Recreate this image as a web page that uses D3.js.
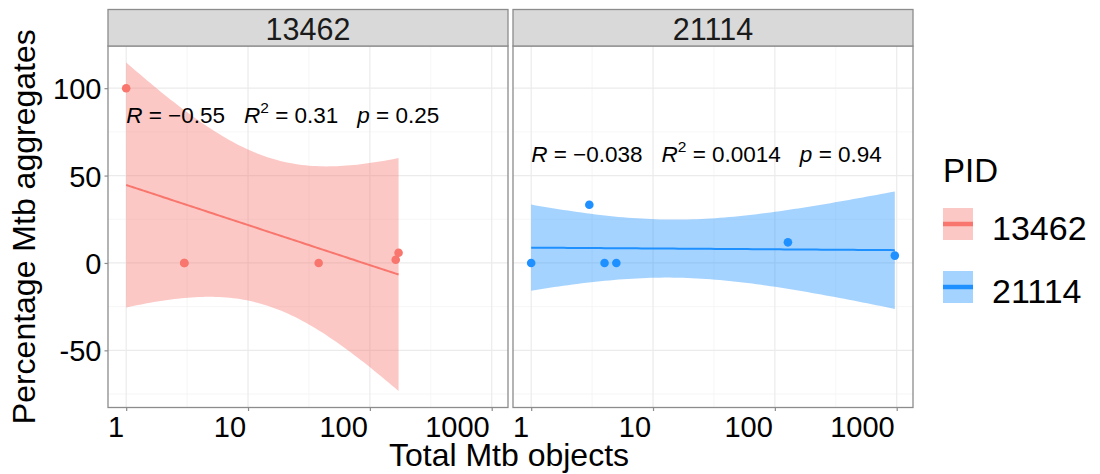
<!DOCTYPE html>
<html>
<head>
<meta charset="utf-8">
<script src="https://cdn.jsdelivr.net/npm/d3@7"></script>
<style>
  html, body { margin: 0; padding: 0; background: #fff; }
  svg text { font-family: "Liberation Sans", Arial, Helvetica, sans-serif; }
</style>
</head>
<body>
<svg id="chart" width="1100" height="474"></svg>
<script>
// ---- data ----------------------------------------------------------------
const pidLevels   = ["13462", "21114"];
const pidColors   = ["#F8766D", "#1E90FF"];
const totalMtb13462 = [1, 3, 3, 38, 163, 172];
const pctAgg13462   = [100, 0, 0, 0, 1.84, 5.81];
const totalMtb21114 = [1, 3, 4, 5, 128, 965];
const pctAgg21114   = [0, 33.3, 0, 0, 11.8, 4.2];
const xTickValues = [1, 10, 100, 1000];
const yTickValues = [-50, 0, 50, 100];
const statR  = ["\u22120.55", "\u22120.038"];
const statR2 = ["0.31", "0.0014"];
const statP  = ["0.25", "0.94"];

// two-sided 95% t quantiles by residual degrees of freedom
const T975 = { 1: 12.706, 2: 4.303, 3: 3.182, 4: 2.776, 5: 2.571, 6: 2.447, 7: 2.365, 8: 2.306 };

const groups = [
  { pid: pidLevels[0], color: pidColors[0], x: totalMtb13462, y: pctAgg13462, r: statR[0], r2: statR2[0], p: statP[0], labelY: 80 },
  { pid: pidLevels[1], color: pidColors[1], x: totalMtb21114, y: pctAgg21114, r: statR[1], r2: statR2[1], p: statP[1], labelY: 57.5 }
];

// ---- linear fit on log10(x) with 95% confidence band ------------------------
function fitLm(xs, ys) {
  const lx = xs.map(Math.log10);
  const n = lx.length;
  const mx = d3.mean(lx), my = d3.mean(ys);
  let sxx = 0, sxy = 0;
  lx.forEach((v, i) => { sxx += (v - mx) ** 2; sxy += (v - mx) * (ys[i] - my); });
  const slope = sxy / sxx, icpt = my - slope * mx;
  let sse = 0;
  lx.forEach((v, i) => { sse += (ys[i] - (icpt + slope * v)) ** 2; });
  const s = Math.sqrt(sse / (n - 2));
  const t = T975[n - 2];
  const lo = d3.min(lx), hi = d3.max(lx);
  return d3.range(80).map(k => {
    const v = lo + (hi - lo) * k / 79;
    const fit = icpt + slope * v;
    const se = s * Math.sqrt(1 / n + (v - mx) ** 2 / sxx);
    return { x: Math.pow(10, v), fit, ymin: fit - t * se, ymax: fit + t * se };
  });
}
groups.forEach(g => { g.band = fitLm(g.x, g.y); });

// ---- layout --------------------------------------------------------------
const svg = d3.select("#chart");
const panelW = 400, panelTop = 46, panelBottom = 407.5;
const panelLefts = [108, 513];
const stripTop = 9.5;
const borderCol = "#8c8c8c";

// shared scales (fixed across facets), 5% expansion
const allLogX = groups.flatMap(g => g.x.map(Math.log10));
const lxMin = d3.min(allLogX), lxMax = d3.max(allLogX);
const lxPad = (lxMax - lxMin) * 0.05;
const x = d3.scaleLog()
  .domain([Math.pow(10, lxMin - lxPad), Math.pow(10, lxMax + lxPad)])
  .range([0, panelW]);

const allY = groups.flatMap(g => g.y.concat(g.band.map(b => b.ymin), g.band.map(b => b.ymax)));
const yMin = d3.min(allY), yMax = d3.max(allY);
const yPad = (yMax - yMin) * 0.05;
const y = d3.scaleLinear().domain([yMin - yPad, yMax + yPad]).range([panelBottom - panelTop, 0]);

const xMinor = [0.5, 1.5, 2.5].map(e => Math.pow(10, e));
const yMinor = [-75, -25, 25, 75];

groups.forEach((g, gi) => {
  const left = panelLefts[gi];
  const panel = svg.append("g").attr("transform", `translate(${left},${panelTop})`);
  const h = panelBottom - panelTop;

  // grid
  panel.selectAll(".ymin").data(yMinor).join("line")
    .attr("x1", 0).attr("x2", panelW).attr("y1", d => y(d)).attr("y2", d => y(d))
    .attr("stroke", "#f4f4f4").attr("stroke-width", 0.8);
  panel.selectAll(".xmin").data(xMinor).join("line")
    .attr("y1", 0).attr("y2", h).attr("x1", d => x(d)).attr("x2", d => x(d))
    .attr("stroke", "#f4f4f4").attr("stroke-width", 0.8);
  panel.selectAll(".ymaj").data(yTickValues).join("line")
    .attr("x1", 0).attr("x2", panelW).attr("y1", d => y(d)).attr("y2", d => y(d))
    .attr("stroke", "#ebebeb").attr("stroke-width", 1.2);
  panel.selectAll(".xmaj").data(xTickValues).join("line")
    .attr("y1", 0).attr("y2", h).attr("x1", d => x(d)).attr("x2", d => x(d))
    .attr("stroke", "#ebebeb").attr("stroke-width", 1.2);

  // confidence ribbon
  panel.append("path").datum(g.band)
    .attr("d", d3.area().x(d => x(d.x)).y0(d => y(d.ymin)).y1(d => y(d.ymax)))
    .attr("fill", g.color).attr("fill-opacity", 0.4);
  // fitted line
  panel.append("path").datum(g.band)
    .attr("d", d3.line().x(d => x(d.x)).y(d => y(d.fit)))
    .attr("fill", "none").attr("stroke", g.color).attr("stroke-width", 2);
  // points
  panel.selectAll(".pt").data(g.x.map((v, i) => [v, g.y[i]])).join("circle")
    .attr("cx", d => x(d[0])).attr("cy", d => y(d[1])).attr("r", 4.3)
    .attr("fill", g.color);

  // correlation label: three terms separated by wide gaps
  const lab = panel.append("text")
    .attr("x", x(1)).attr("y", y(g.labelY))
    .attr("font-size", 22.5).attr("fill", "#000");
  const gap = 19;
  lab.append("tspan").attr("font-style", "italic").text("R");
  lab.append("tspan").text(" = " + g.r);
  lab.append("tspan").attr("dx", gap).attr("font-style", "italic").text("R");
  lab.append("tspan").attr("font-size", 15.5).attr("dy", -10).text("2");
  lab.append("tspan").attr("dy", 10).text(" = " + g.r2);
  lab.append("tspan").attr("dx", gap).attr("font-style", "italic").text("p");
  lab.append("tspan").text(" = " + g.p);

  // panel border
  panel.append("rect").attr("x", 0).attr("y", 0).attr("width", panelW).attr("height", h)
    .attr("fill", "none").attr("stroke", borderCol).attr("stroke-width", 1.3);

  // strip
  const strip = svg.append("g").attr("transform", `translate(${left},${stripTop})`);
  strip.append("rect").attr("width", panelW).attr("height", panelTop - stripTop)
    .attr("fill", "#d9d9d9").attr("stroke", borderCol).attr("stroke-width", 1.3);
  strip.append("text").attr("x", panelW / 2).attr("y", 30.5)
    .attr("text-anchor", "middle").attr("font-size", 30.5).attr("fill", "#1a1a1a")
    .text(g.pid);

  // x axis (labels sit just left of their tick)
  const xAxis = d3.axisBottom(x).tickValues(xTickValues).tickFormat(d3.format("d"))
    .tickSizeInner(3.5).tickSizeOuter(0).tickPadding(4);
  const xa = svg.append("g").attr("transform", `translate(${left},${panelBottom})`).call(xAxis);
  xa.select(".domain").remove();
  xa.selectAll(".tick line").attr("stroke", "#8c8c8c").attr("stroke-width", 1.2);
  xa.selectAll(".tick text").attr("font-size", 29).attr("fill", "#000")
    .attr("font-family", "Liberation Sans, Arial, sans-serif")
    .attr("text-anchor", "end").attr("x", -2.5).attr("dy", "0.75em");

  // y axis on the first panel only
  if (gi === 0) {
    const yAxis = d3.axisLeft(y).tickValues(yTickValues).tickFormat(d => String(d))
      .tickSizeInner(3.5).tickSizeOuter(0).tickPadding(3);
    const ya = svg.append("g").attr("transform", `translate(${left},${panelTop})`).call(yAxis);
    ya.select(".domain").remove();
    ya.selectAll(".tick line").attr("stroke", "#8c8c8c").attr("stroke-width", 1.2);
    ya.selectAll(".tick text").attr("font-size", 29).attr("fill", "#000")
      .attr("font-family", "Liberation Sans, Arial, sans-serif").attr("dy", "0.36em");
  }
});

// axis titles
svg.append("text").attr("x", 509).attr("y", 466)
  .attr("text-anchor", "middle").attr("font-size", 32).attr("fill", "#000")
  .text("Total Mtb objects");
svg.append("text")
  .attr("transform", `translate(34.5,${(panelTop + panelBottom) / 2}) rotate(-90)`)
  .attr("text-anchor", "middle").attr("font-size", 32).attr("fill", "#000")
  .text("Percentage Mtb aggregates");

// legend
const legend = svg.append("g").attr("transform", "translate(943,0)");
legend.append("text").attr("x", 0).attr("y", 181.5).attr("font-size", 33).attr("fill", "#000").text("PID");
const keyTops = [208, 271];
groups.forEach((g, gi) => {
  const k = legend.append("g").attr("transform", `translate(0,${keyTops[gi]})`);
  k.append("rect").attr("width", 30).attr("height", 32).attr("fill", g.color).attr("fill-opacity", 0.4);
  k.append("line").attr("x1", 0).attr("x2", 30).attr("y1", 16).attr("y2", 16)
    .attr("stroke", g.color).attr("stroke-width", 4.5);
  k.append("text").attr("x", 49).attr("y", 32).attr("font-size", 34).attr("fill", "#000").text(g.pid);
});
</script>
</body>
</html>
